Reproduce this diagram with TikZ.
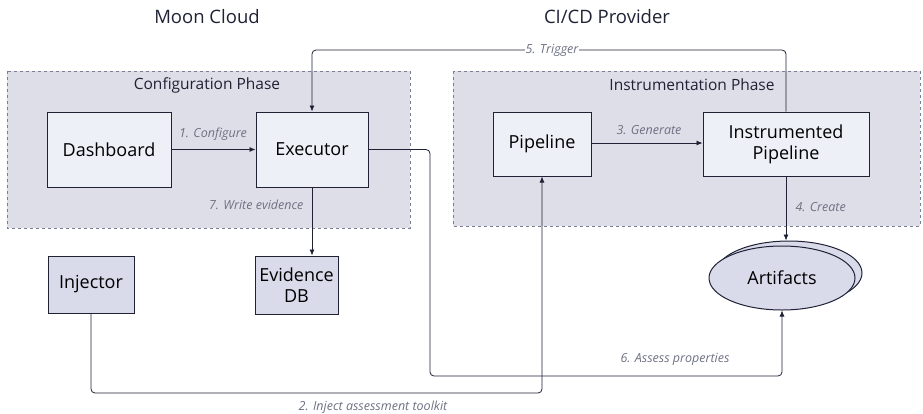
\documentclass[tikz,border=0pt]{standalone}
\usepackage{fontspec}
\setmainfont{Open Sans}
\usetikzlibrary{arrows.meta}
\usetikzlibrary{shapes.geometric}
\definecolor{ink}{HTML}{1F2235}
\definecolor{blockfill}{HTML}{EEF0F8}
\definecolor{storefill}{HTML}{D9DAEA}
\definecolor{phasefill}{HTML}{DDDEE8}
\definecolor{phaseline}{HTML}{7C7F92}
\definecolor{labelgray}{HTML}{6E7183}
\tikzset{phase/.style={draw=phaseline, dashed, fill=phasefill, line width=0.8pt},
block/.style={draw=ink, fill=blockfill, line width=1pt, align=center,
inner sep=0pt, font=\fontsize{18}{21}\selectfont},
store/.style={block, fill=storefill},
flow/.style={draw=ink, line width=0.8pt, rounded corners=4pt,
-{Latex[length=6pt,width=5pt]}},
lbl/.style={text=labelgray, font=\itshape\fontsize{12.5}{14}\selectfont},
title/.style={font=\fontsize{18.5}{21}\selectfont, text=ink},
phasetitle/.style={font=\fontsize{15.5}{18}\selectfont, text=ink}}

\begin{document}
\begin{tikzpicture}[x=1pt, y=-1pt]
	\useasboundingbox (0,0) rectangle (923,413);
	% phases
	\draw[phase] (7,71) rectangle (410,228);
	\draw[phase] (453,71) rectangle (920,226);
	\node[title] (moon) at (207,17) {Moon Cloud};
	\node[title] (cicd) at (607,17) {CI/CD Provider};
	\node[phasetitle] (conf) at (207,85) {Configuration Phase};
	\node[phasetitle] (inst) at (692,85) {Instrumentation Phase};
	% blocks
	\node[block, minimum width=124, minimum height=75] (dash) at (109,149.5) {Dashboard};
	\node[block, minimum width=112, minimum height=75] (exec) at (312,149.5) {Executor};
	\node[block, minimum width=98, minimum height=64] (pipe) at (542,144) {Pipeline};
	\node[block, minimum width=166, minimum height=64] (instr) at (786,144) {Instrumented\\Pipeline};
	\node[store, minimum width=86, minimum height=57] (inj) at (91,284.5) {Injector};
	\node[store, minimum width=83, minimum height=58] (evdb) at (296.5,285) {Evidence\\DB};
	\node[store, ellipse, minimum width=146, minimum height=64] (artback) at (789,273) {};
	\node[store, ellipse, minimum width=146, minimum height=64] (art) at (782,278) {Artifacts};
	% connectors
	\coordinate (trig) at (552,50);
	\coordinate (bend6) at (430,376);
	\coordinate (bend2) at (300,393);
	\draw[flow] (dash.east) -- (dash.east -| exec.west);
	\draw[flow] (pipe.east |- 0,143) -- (instr.west |- 0,143);
	\draw[flow] (instr.north) |- (trig) -| (exec.north);
	\draw[flow] (exec.south) -- (exec.south |- evdb.north);
	\draw[flow] (exec.east) -| (bend6) -| (art.south);
	\draw[flow] (inj.south) |- (bend2) -| (pipe.south);
	\draw[flow] (instr.south) -- (instr.south |- artback.north);
	% labels
	\node[lbl] (l1) at (213,134) {1. Configure};
	\node[lbl, fill=white, inner sep=1pt] (l5) at (trig) {5. Trigger};
	\node[lbl] (l3) at (649,130) {3. Generate};
	\node[lbl, anchor=east] (l7) at (307,205) {7. Write evidence};
	\node[lbl, anchor=west] (l4) at (792,207) {4. Create};
	\node[lbl] (l6) at (675,359) {6. Assess properties};
	\node[lbl] (l2) at (373,407) {2. Inject assessment toolkit};
\end{tikzpicture}
\end{document}
